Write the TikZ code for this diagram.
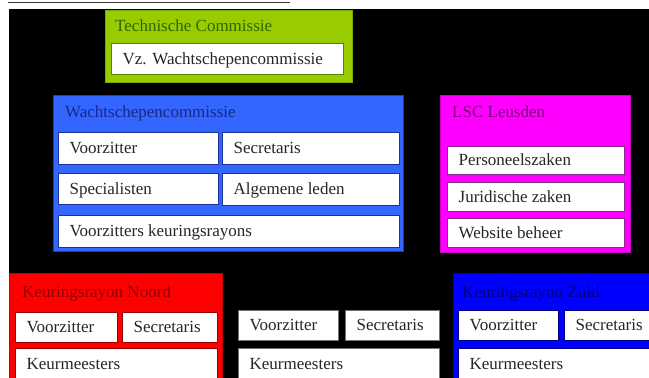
\documentclass[tikz,border=0pt]{standalone}
\usepackage{fontspec}
\setmainfont{Liberation Serif}
\definecolor{gfill}{RGB}{153,204,0}
\definecolor{gdraw}{RGB}{120,170,0}
\definecolor{gtext}{RGB}{50,100,0}
\definecolor{gin}{RGB}{90,130,0}
\definecolor{bfill}{RGB}{51,102,255}
\definecolor{bdraw}{RGB}{30,60,190}
\definecolor{btext}{RGB}{25,40,130}
\definecolor{bin}{RGB}{30,50,150}
\definecolor{mfill}{RGB}{255,0,255}
\definecolor{mdraw}{RGB}{200,0,200}
\definecolor{mtext}{RGB}{125,0,125}
\definecolor{min}{RGB}{140,40,140}
\definecolor{rfill}{RGB}{255,0,0}
\definecolor{rdraw}{RGB}{200,0,0}
\definecolor{rtext}{RGB}{140,0,0}
\definecolor{rin}{RGB}{150,0,0}
\definecolor{zfill}{RGB}{0,0,255}
\definecolor{zdraw}{RGB}{0,0,200}
\definecolor{ztext}{RGB}{0,0,120}
\definecolor{zin}{RGB}{0,0,130}
\begin{document}
\begin{tikzpicture}[x=1pt,y=-1pt,
  every node/.style={font=\fontsize{17}{19}\selectfont},
  outerbox/.style={anchor=north west, inner sep=0pt, line width=1.2pt},
  ibox/.style n args={3}{draw=#3, fill=white, anchor=north west, line width=1.3pt,
     inner xsep=11pt, inner ysep=0pt, text width=#1, minimum height=#2,
     align=flush left, text=black!85, text height=12pt, text depth=1.5pt},
  ttl/.style={anchor=west, inner sep=0pt, text height=12pt, text depth=1.5pt}
]
\useasboundingbox (0,0) rectangle (649,378);
\fill[white] (0,0) rectangle (649,378);
\fill[black] (9,9) rectangle (649,378);
\draw[black!80, line width=0.8pt] (8,2) -- (290,2);

% Technische Commissie
\node[outerbox, fill=gfill, draw=gdraw, minimum width=247, minimum height=72] (tc) at (105,10) {};
\node[ttl, text=gtext] (tct) at (115,26) {Technische Commissie};
\node[ibox={210}{31}{gin}] (tcv) at (111,43) {Vz. Wachtschepencommissie};

% Wachtschepencommissie
\node[outerbox, fill=bfill, draw=bdraw, minimum width=350, minimum height=156] (wc) at (53,95) {};
\node[ttl, text=btext] (wct) at (65,112) {Wachtschepencommissie};
\node[ibox={138}{32}{bin}] (wcv) at (58,132) {Voorzitter};
\node[ibox={155}{32}{bin}] (wcs) at (222,132) {Secretaris};
\node[ibox={138}{31}{bin}] (wcsp) at (58,173) {Specialisten};
\node[ibox={155}{32}{bin}] (wca) at (222,173) {Algemene leden};
\node[ibox={319}{32}{bin}] (wck) at (58,215) {Voorzitters keuringsrayons};

% LSC Leusden
\node[outerbox, fill=mfill, draw=mdraw, minimum width=190, minimum height=157] (lsc) at (440,95) {};
\node[ttl, text=mtext] (lsct) at (452,112) {LSC Leusden};
\node[ibox={155}{28}{min}] (lscp) at (447,146) {Personeelszaken};
\node[ibox={155}{29}{min}] (lscj) at (447,182) {Juridische zaken};
\node[ibox={155}{29}{min}] (lscw) at (447,218) {Website beheer};

% Keuringsrayon Noord
\node[outerbox, fill=rfill, draw=rdraw, minimum width=213, minimum height=110] (kn) at (9,273) {};
\node[ttl, text=rtext] (knt) at (22,292) {Keuringsrayon Noord};
\node[ibox={80}{30}{rin}] (knv) at (15,312) {Voorzitter};
\node[ibox={73}{30}{rin}] (kns) at (122,312) {Secretaris};
\node[ibox={180}{31}{rin}] (knk) at (15,348) {Keurmeesters};

% Middle rayon
\node[ibox={78}{30}{black!55}] (kmv) at (238,310) {Voorzitter};
\node[ibox={72}{30}{black!55}] (kms) at (345,310) {Secretaris};
\node[ibox={179}{31}{black!55}] (kmk) at (238,348) {Keurmeesters};

% Keuringsrayon Zuid
\node[outerbox, fill=zfill, draw=zdraw, minimum width=210, minimum height=110] (kz) at (453,273) {};
\node[ttl, text=ztext] (kzt) at (462,292) {Keuringsrayon Zuid};
\node[ibox={78}{30}{zin}] (kzv) at (458,310) {Voorzitter};
\node[ibox={90}{30}{zin}] (kzs) at (564,310) {Secretaris};
\node[ibox={190}{31}{zin}] (kzk) at (458,348) {Keurmeesters};
\end{tikzpicture}
\end{document}
